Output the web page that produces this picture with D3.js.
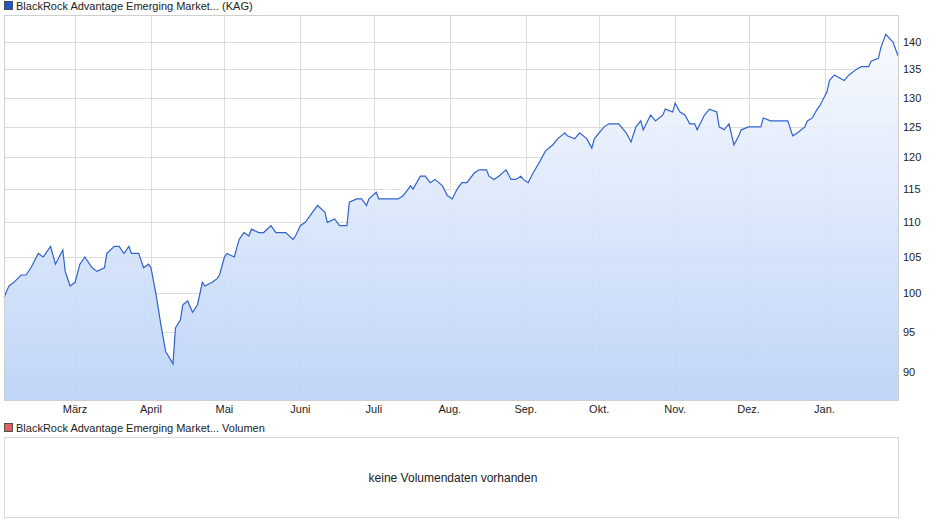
<!DOCTYPE html>
<html><head><meta charset="utf-8">
<script src="https://cdn.jsdelivr.net/npm/d3@7"></script>
<style>body{margin:0;background:#fff}text{font-family:"Liberation Sans",Arial,sans-serif}</style>
</head><body><div id="chart"></div>
<script>
// day offsets from 1 Feb 2024 and fund prices
var days = [0,2,4,7,9,11,14,16,19,21,24,25,27,29,31,33,36,38,41,42,45,47,49,51,52,55,57,59,60,62,64,66,69,70,72,73,75,77,79,81,82,85,87,88,90,91,94,96,98,100,101,104,106,109,111,113,115,118,119,121,123,126,128,131,132,135,137,140,141,144,146,148,149,152,153,156,158,161,163,166,167,170,172,174,176,179,181,183,185,187,189,192,194,197,198,200,202,205,207,209,211,212,214,216,219,221,224,226,229,230,233,235,238,240,241,243,245,247,249,251,254,256,258,260,261,264,266,269,270,273,274,276,278,280,282,283,286,288,291,292,294,296,298,300,301,304,306,309,310,313,315,318,320,322,324,327,328,330,332,333,336,337,339,341,343,345,348,350,353,354,357,358,360,362,363,365];
var prices = [99.5,101,101.5,102.5,102.5,103.5,105.5,105,106.5,104,106,103,101,101.5,104,105,103.5,103,103.5,105.5,106.5,106.5,105.5,106.5,105.5,105.5,103.5,104,103.5,100,96,92.5,91,95.5,96.5,98.5,99,97.5,98.5,101.5,101,101.5,102,102.5,105,105.5,105,107.5,108.5,108,109,108.5,108.5,109.5,108.5,108.5,108.5,107.5,108,109.5,110,111.5,112.5,111.5,110,110.5,109.5,109.5,113,113.5,113.5,112.5,113.5,114.5,113.5,113.5,113.5,113.5,114,115.5,115,117,117,116,116.5,115.5,114,113.5,115,116,116,117.5,118,118,117,116.5,117,118,116.5,116.5,117,116.5,116,117.5,119.5,121,122,123,124,123.5,123,124,123,121.5,123,124,125,125.5,125.5,125.5,124,122.5,125,126,124.5,127,126,127,128,127.5,129,127.5,127,125.5,125.5,124.5,127,128,127.5,125,124.5,125.5,122,123.5,124.5,125,125,125,126.5,126,126,126,126,123.5,124,125,126,126.5,128,128.5,131,133,134,133.5,133,134,135,135.5,135.5,136.5,137,139,141.5,140.5,140,137.5];
var yTicks = [90,95,100,105,110,115,120,125,130,135,140];
var monthLabels = ["März","April","Mai","Juni","Juli","Aug.","Sep.","Okt.","Nov.","Dez.","Jan."];

var W = 940, H = 526, L = 4, R = 898, T = 15, B = 400;
var start = new Date(2024, 1, 1);
var data = days.map(function(d, i){ return {date: d3.timeDay.offset(start, d), v: prices[i]}; });

var svg = d3.select("#chart").append("svg").attr("width", W).attr("height", H);
var x = d3.scaleTime().domain([start, new Date(2025, 0, 31)]).range([L, R]);
var y = d3.scaleLog().domain([86.7, 145.2]).range([B, T]);

var grad = svg.append("defs").append("linearGradient").attr("id", "g").attr("x1", 0).attr("y1", 0).attr("x2", 0).attr("y2", 1);
grad.append("stop").attr("offset", "0%").attr("stop-color", "#f7f9fe");
grad.append("stop").attr("offset", "100%").attr("stop-color", "#b9d1f7");

// grid
var months = d3.timeMonth.range(new Date(2024, 2, 1), new Date(2025, 1, 1));
svg.selectAll(".vg").data(months).enter().append("line")
  .attr("x1", function(d){ return Math.round(x(d)) + 0.5; }).attr("x2", function(d){ return Math.round(x(d)) + 0.5; })
  .attr("y1", T).attr("y2", B).attr("stroke", "#dcdcdc");
svg.selectAll(".hg").data(yTicks).enter().append("line")
  .attr("x1", L).attr("x2", R)
  .attr("y1", function(d){ return Math.round(y(d)) + 0.5; }).attr("y2", function(d){ return Math.round(y(d)) + 0.5; })
  .attr("stroke", "#dcdcdc");

svg.append("text").attr("x", 452).attr("y", 212).attr("text-anchor", "middle")
  .attr("font-size", 34).attr("font-weight", "bold").attr("font-style", "italic")
  .attr("fill", "#ffffff").attr("fill-opacity", 0.55).text("ARIVA.DE");

svg.append("path").datum(data).attr("fill", "url(#g)").attr("fill-opacity", 0.9)
  .attr("d", d3.area().x(function(d){ return x(d.date); }).y0(B).y1(function(d){ return y(d.v); }));
svg.append("path").datum(data).attr("fill", "none").attr("stroke", "#2f63c8").attr("stroke-width", 1.2)
  .attr("d", d3.line().x(function(d){ return x(d.date); }).y(function(d){ return y(d.v); }));

svg.append("rect").attr("x", L + 0.5).attr("y", T + 0.5).attr("width", R - L).attr("height", B - T)
  .attr("fill", "none").attr("stroke", "#cfcfcf");

// axes labels
svg.selectAll(".yl").data(yTicks).enter().append("text")
  .attr("x", 903).attr("y", function(d){ return y(d) + 4; }).attr("font-size", 11).attr("fill", "#222")
  .text(function(d){ return d; });
svg.selectAll(".xl").data(months).enter().append("text")
  .attr("x", function(d){ return x(d); }).attr("y", 413).attr("text-anchor", "middle")
  .attr("font-size", 11).attr("fill", "#222")
  .text(function(d, i){ return monthLabels[i]; });

// legends
function legend(yy, col, txt) {
  svg.append("rect").attr("x", 4.5).attr("y", yy - 4.5).attr("width", 8).attr("height", 8).attr("fill", col).attr("stroke", "#333").attr("stroke-width", 0.8);
  svg.append("text").attr("x", 16).attr("y", yy + 4).attr("font-size", 11).attr("fill", "#222").text(txt);
}
legend(6, "#1f5bc6", "BlackRock Advantage Emerging Market... (KAG)");
legend(428, "#e06060", "BlackRock Advantage Emerging Market... Volumen");

svg.append("rect").attr("x", 4.5).attr("y", 437.5).attr("width", R - L).attr("height", 80)
  .attr("fill", "none").attr("stroke", "#d6d6d6");
svg.append("text").attr("x", 453).attr("y", 482).attr("text-anchor", "middle").attr("font-size", 12)
  .attr("fill", "#222").text("keine Volumendaten vorhanden");
</script></body></html>
